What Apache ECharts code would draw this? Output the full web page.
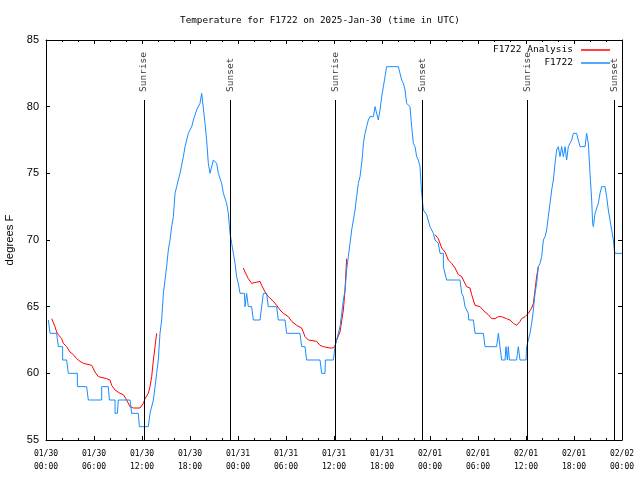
<!DOCTYPE html>
<html><head><meta charset="utf-8">
<script src="https://cdn.jsdelivr.net/npm/echarts@6/dist/echarts.min.js"></script>
<style>html,body{margin:0;padding:0;background:#fff}#c{width:640px;height:480px}</style>
</head><body><div id="c"></div>
<script>
const titleText = 'Temperature for F1722 on 2025-Jan-30 (time in UTC)';
const yAxisTitle = 'degrees F';
const tickLabels = ['01/30\n00:00','01/30\n06:00','01/30\n12:00','01/30\n18:00','01/31\n00:00','01/31\n06:00','01/31\n12:00','01/31\n18:00','02/01\n00:00','02/01\n06:00','02/01\n12:00','02/01\n18:00','02/02\n00:00'];
const sunEvents = ['Sunrise','Sunset','Sunrise','Sunset','Sunrise','Sunset'];
const sunHours = [12.25, 23.08, 36.17, 47.04, 60.17, 71.04];
const sunLineTop = 80.5;
const sunLabelAt = 81.1;

// hours since 01/30 00:00 UTC, degrees F
const observed = [
[0.29,64],[0.5,63],[1.33,63],[1.54,62],[2.08,62],[2.08,61],[2.58,61],[2.79,60],[3.92,60],[3.92,59],[5.08,59],[5.29,58],[6.96,58],[6.96,59],[7.79,59],[7.92,58],[8.63,58],[8.63,57],[8.92,57],[9.04,58],[10.5,58],[10.71,57],[11.54,57],[11.67,56],[12.79,56],[13.0,57],[13.42,58],[13.63,59],[13.83,60],[14.04,61],[14.25,63],[14.46,64],[14.67,66],[14.88,67],[15.08,68],[15.29,69.25],[15.5,70],[15.71,71],[15.92,71.75],[16.13,73.5],[16.33,74],[16.75,75],[17.17,76.25],[17.38,77],[17.79,78],[18.21,78.5],[18.42,79],[18.83,79.75],[19.25,80.25],[19.46,81],[19.67,81],[19.88,78.75],[20.08,77.5],[20.29,75.75],[20.5,75],[20.92,76],[21.33,75.75],[21.54,75],[21.96,74.25],[22.17,73.5],[22.58,72.75],[22.79,72],[23.0,70.5],
[23.21,69.75],[23.42,69],[23.63,68.25],[23.83,67.25],[24.04,66.75],[24.25,66],[24.8,66],[24.88,65],[25.0,65],[25.08,66],[25.2,66],[25.29,65],[25.7,65],[25.92,64],[26.75,64],[26.96,65],[27.17,66],[27.58,66],[27.79,65],[28.83,65],[29.04,64],[29.88,64],[30.08,63],[31.75,63],[31.96,62],[32.38,62],[32.58,61],[34.25,61],[34.46,60],[34.88,60],[34.92,61],[35.92,61],[36.13,62],[36.33,62.5],[36.75,63.5],[36.96,64.5],[37.17,65.5],[37.38,66.25],[37.58,67.75],[37.79,68.75],[38.0,69.75],[38.21,70.75],[38.42,71.5],[38.63,72.25],[38.83,73.25],[39.04,74.25],[39.25,74.75],[39.46,75.75],[39.58,76.5],[39.67,77.25],[39.88,78],[40.08,78.5],[40.29,79],[40.5,79.25],[40.92,79.25],[41.13,80],[41.33,80],[41.54,79],[41.75,79.75],[41.96,80.75],[42.17,81.5],[42.38,82.25],[42.58,83],[44.04,83],[44.25,82.5],[44.46,82],[44.67,81.75],[44.88,81.25],[45.08,80.25],[45.5,80],[45.71,78.5],[45.92,77.25],[46.13,77],[46.33,76.25],[46.54,76],[46.75,75.5],[46.96,73.5],[47.17,72.25],[47.58,71.9],
[48.0,71],[48.21,71],[48.42,70.5],[48.63,70],[49.04,69.75],[49.25,69],[49.67,69],[49.67,68],[49.88,68],[50.08,67],[51.75,67],[51.96,66],[52.17,65.75],[52.38,65],[52.79,64.5],[52.85,64],[53.42,64],[53.63,63],[54.67,63],[54.88,62],[56.33,62],[56.54,63],[56.75,63],[56.96,61],[57.38,61],[57.5,62],[57.67,61],[57.79,62],[57.92,61],[58.83,61],[59.04,62],[59.25,61],[60.0,61],[60.08,62],[60.29,62.5],[60.5,63],[60.71,63.75],[60.92,64.75],[61.13,66],[61.33,66.75],[61.54,68],[61.75,68.25],[61.96,68.75],[62.17,70],[62.38,70.25],[62.58,70.75],[62.79,71.75],[63.0,72.75],[63.21,73.75],[63.42,74.5],[63.63,75.75],[63.83,76.75],[64.04,77],[64.25,76.25],[64.46,77],[64.67,76.25],[64.88,77],[65.08,76],[65.29,77],[65.5,77.25],[65.71,77.5],[65.92,78],[66.33,78],[66.54,77.5],[66.75,77],[67.38,77],[67.58,78],[67.79,77.25],[68.0,75],[68.21,73],[68.33,71.25],[68.42,71],[68.63,72],[68.83,72],[69.04,72.75],[69.25,73.5],[69.46,74],[69.88,74],[70.08,73.25],[70.29,72.25],[70.5,71.5],[70.71,70.75],[70.92,70],[71.04,69.25],[71.13,69],[72.0,69]
];

const analysisDay1 = [[0.71,64.1],[0.92,64],[1.13,63.5],[1.33,63.1],[1.54,62.9],[1.96,62.6],[2.17,62.25],[2.58,62],[3.0,61.6],[3.42,61.4],[3.83,61.1],[4.25,60.9],[4.67,60.75],[5.71,60.6],[5.92,60.5],[6.13,60.1],[6.54,59.75],[7.58,59.6],[8.0,59.5],[8.21,59.1],[8.63,58.75],[9.25,58.5],[9.67,58.4],[9.88,58.25],[10.08,58],[10.5,57.5],[10.92,57.4],[11.75,57.4],[11.96,57.5],[12.17,57.75],[12.38,58.1],[12.79,58.5],[13.0,59],[13.21,59.75],[13.42,61],[13.63,62],[13.83,63]];
const analysisDay2 = [[24.67,67.9],[24.88,67.6],[25.29,67.1],[25.71,66.75],[26.75,66.9],[26.96,66.6],[27.38,66.1],[27.79,65.75],[28.42,65.4],[28.83,65.1],[29.25,64.75],[29.67,64.5],[30.29,64.25],[30.71,63.9],[31.33,63.6],[31.96,63.4],[32.38,62.75],[32.79,62.5],[33.83,62.4],[34.25,62.1],[34.67,62],[35.5,61.9],[35.92,61.9],[36.13,62.1],[36.33,62.5],[36.75,63.1],[37.17,64.75],[37.38,66.25],[37.58,68.6]];
const analysisDay3 = [[48.63,70.4],[49.04,70.1],[49.46,69.4],[49.88,69.1],[50.29,68.5],[50.71,68.25],[51.13,67.9],[51.54,67.4],[51.96,67.25],[52.58,66.5],[53.0,66.4],[53.21,65.9],[53.63,65.1],[54.25,65],[54.88,64.6],[55.29,64.4],[55.71,64.1],[56.13,64.1],[56.54,64.25],[56.96,64.25],[57.58,64.1],[58.0,64],[58.42,63.75],[58.83,63.6],[59.25,63.9],[59.46,64.1],[59.88,64.25],[60.29,64.5],[60.71,64.9],[60.92,65.25],[61.13,66.25],[61.33,67.25],[61.54,68]];

const MONO = '"DejaVu Sans Mono", monospace';
const SANS = '"Liberation Sans", Arial, sans-serif';
const BLUE = '#1a8cff';
const RED = '#ff0000';

const chart = echarts.init(document.getElementById('c'), null, {renderer: 'canvas'});
const axisCommon = {
  type: 'value', splitLine: {show: false},
  axisLine: {show: true, onZero: false, lineStyle: {color: '#000', width: 1}},
  axisTick: {show: true, inside: true, length: 4, lineStyle: {color: '#000'}}
};
const analysisSeries = [analysisDay1, analysisDay2, analysisDay3].map(d => ({
  type: 'line', name: 'F1722 Analysis', data: d, symbol: 'none', z: 3,
  lineStyle: {color: RED, width: 1}, itemStyle: {color: RED}, animation: false
}));
chart.setOption({
  animation: false,
  backgroundColor: '#fff',
  title: {text: titleText, left: 'center', top: 11,
    textStyle: {fontFamily: MONO, fontSize: 9.3, fontWeight: 'normal', color: '#000'}},
  grid: {left: 46, right: 18, top: 40, bottom: 40, containLabel: false, outerBoundsMode: 'none'},
  legend: {data: ['F1722 Analysis', 'F1722'], orient: 'vertical', right: 30, top: 44.5, padding: 0,
    align: 'right', icon: 'rect', itemWidth: 29, itemHeight: 1.5, itemGap: 2, selectedMode: false,
    textStyle: {fontFamily: MONO, fontSize: 9.5, color: '#000', lineHeight: 11, padding: [0, 3, 0, 0]}},
  xAxis: [
    Object.assign({}, axisCommon, {min: 0, max: 72, interval: 6, position: 'bottom',
      minorTick: {show: true, splitNumber: 3, length: 2, lineStyle: {color: '#000'}},
      axisLabel: {formatter: v => tickLabels[Math.round(v / 6)], fontFamily: MONO, fontSize: 8,
        color: '#000', margin: 7, lineHeight: 13}}),
    Object.assign({}, axisCommon, {min: 0, max: 72, interval: 6, position: 'top',
      minorTick: {show: true, splitNumber: 3, length: 2, lineStyle: {color: '#000'}},
      axisLabel: {show: false}})
  ],
  yAxis: [
    Object.assign({}, axisCommon, {min: 55, max: 85, interval: 5, position: 'left',
      axisLabel: {fontFamily: SANS, fontSize: 11, color: '#000', margin: 7},
      name: yAxisTitle, nameLocation: 'middle', nameGap: 30, nameRotate: 90,
      nameTextStyle: {fontFamily: SANS, fontSize: 11.3, color: '#000'}}),
    Object.assign({}, axisCommon, {min: 55, max: 85, interval: 5, position: 'right',
      axisLabel: {show: false}})
  ],
  series: [
    {type: 'scatter', name: 'sun', symbolSize: 0, z: 1, silent: true,
      data: sunHours.map((h, i) => [h, sunLabelAt, sunEvents[i]]),
      label: {show: true, position: 'inside', rotate: 90, align: 'left', verticalAlign: 'middle',
        formatter: p => p.data[2], fontFamily: MONO, fontSize: 9.5, color: '#000'},
      markLine: {silent: true, symbol: ['none', 'none'], animation: false,
        lineStyle: {color: '#000', width: 1, type: 'solid'}, label: {show: false},
        data: sunHours.map(h => [{coord: [h, 55]}, {coord: [h, sunLineTop]}])}},
    ...analysisSeries,
    {type: 'line', name: 'F1722', data: observed, symbol: 'none', z: 4,
      lineStyle: {color: BLUE, width: 1}, itemStyle: {color: BLUE}}
  ]
});
</script>
</body></html>
